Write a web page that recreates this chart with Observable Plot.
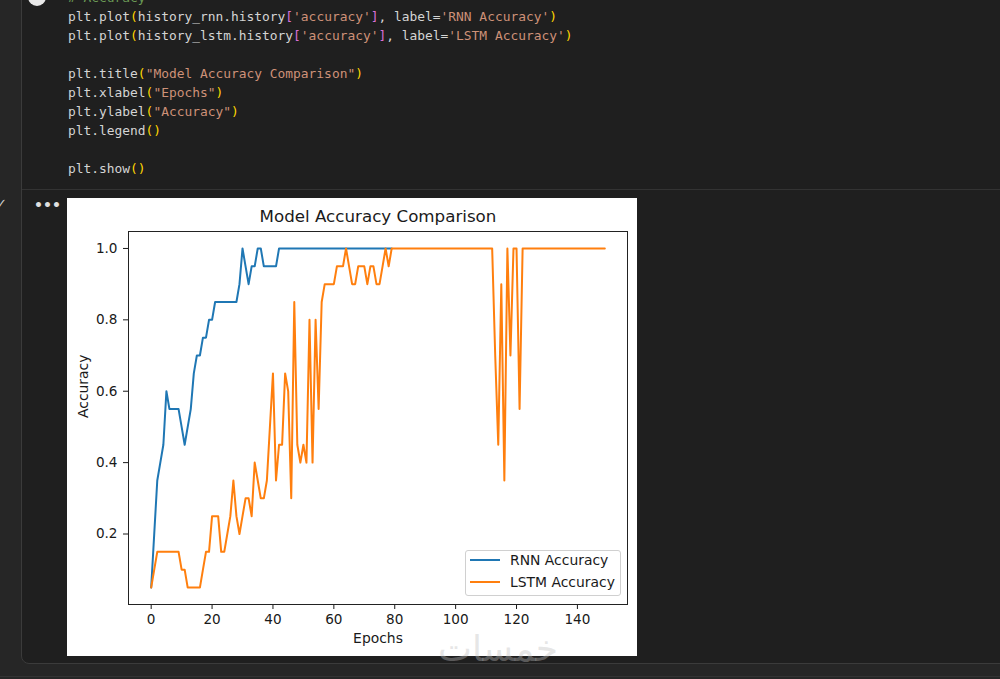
<!DOCTYPE html>
<html>
<head>
<meta charset="utf-8">
<script src="https://cdn.jsdelivr.net/npm/d3@7"></script>
<script src="https://cdn.jsdelivr.net/npm/@observablehq/plot@0.6"></script>
<style>
  html, body { margin:0; padding:0; }
  body { width:1000px; height:679px; overflow:hidden; background:#262626; position:relative; font-family:"DejaVu Sans", sans-serif; }
  #cell { position:absolute; left:21px; top:-20px; width:1100px; height:684px; background:#1f1f1f; border:1px solid #3b3b3b; border-radius:8px; box-sizing:border-box; }
  #sep { position:absolute; left:22px; top:189px; width:978px; height:1px; background:#333; }
  #code { position:absolute; left:68px; top:-12px; margin:0; font-family:"DejaVu Sans Mono", monospace; font-size:12.9px; line-height:19px; color:#d4d4d4; white-space:pre; }
  .p { color:#ffd700; } .b { color:#da70d6; } .s { color:#ce9178; } .c { color:#6a9955; }
  #run { position:absolute; left:28px; top:-12px; width:18px; height:18px; border-radius:50%; background:#e8e8e8; }
  #dots { position:absolute; left:34px; top:197px; color:#e0e0e0; font-size:14px; font-weight:bold; letter-spacing:0px; }
  #check { position:absolute; left:-4px; top:196px; color:#cfcfcf; font-size:13px; }
  #fig { position:absolute; left:67px; top:198px; width:570px; height:458px; background:#fff; }
  #legend { position:absolute; left:398px; top:352px; width:156px; height:46px; box-sizing:border-box; border:1px solid #d0d0d0; border-radius:3px; background:rgba(255,255,255,0.85); font-family:"DejaVu Sans"; font-size:13.9px; color:#1a1a1a; }
  .li { position:absolute; left:4px; height:20px; display:flex; align-items:center; }
  .sw { width:30px; height:2px; margin-right:10px; }
  #wm { position:absolute; left:438px; top:628px; font-family:"DejaVu Sans"; font-size:36px; color:rgba(190,190,190,0.38); direction:rtl; }
  #bottomline { position:absolute; left:0; top:676px; width:1000px; height:1px; background:#333; }
</style>
</head>
<body>
<div id="cell"></div>
<div id="sep"></div>
<div id="run"></div>
<pre id="code"><span class="c"># Accuracy</span>
plt.plot<span class="p">(</span>history_rnn.history<span class="b">[</span><span class="s">'accuracy'</span><span class="b">]</span>, label=<span class="s">'RNN Accuracy'</span><span class="p">)</span>
plt.plot<span class="p">(</span>history_lstm.history<span class="b">[</span><span class="s">'accuracy'</span><span class="b">]</span>, label=<span class="s">'LSTM Accuracy'</span><span class="p">)</span>

plt.title<span class="p">(</span><span class="s">"Model Accuracy Comparison"</span><span class="p">)</span>
plt.xlabel<span class="p">(</span><span class="s">"Epochs"</span><span class="p">)</span>
plt.ylabel<span class="p">(</span><span class="s">"Accuracy"</span><span class="p">)</span>
plt.legend<span class="p">()</span>

plt.show<span class="p">()</span></pre>
<div id="check">✓</div>
<div id="dots">•••</div>
<div id="fig">
  <div id="legend">
    <div class="li" style="top:-1px"><div class="sw" style="background:#1f77b4"></div><span>RNN Accuracy</span></div>
    <div class="li" style="top:21px"><div class="sw" style="background:#ff7f0e"></div><span>LSTM Accuracy</span></div>
  </div>
</div>
<div id="wm">خمسات</div>
<div id="bottomline"></div>
<script>
// ---- data ----
const rnnAcc = [
  0.05, 0.2, 0.35, 0.4, 0.45, 0.6, 0.55, 0.55, 0.55, 0.55,
  0.5, 0.45, 0.5, 0.55, 0.65, 0.7, 0.7, 0.75, 0.75, 0.8,
  0.8, 0.85, 0.85, 0.85, 0.85, 0.85, 0.85, 0.85, 0.85, 0.9,
  1.0, 0.95, 0.9, 0.95, 0.95, 1.0, 1.0, 0.95, 0.95, 0.95,
  0.95, 0.95, 1.0, 1.0, 1.0, 1.0, 1.0, 1.0, 1.0, 1.0,
  1.0, 1.0, 1.0, 1.0, 1.0, 1.0, 1.0, 1.0, 1.0, 1.0,
  1.0, 1.0, 1.0, 1.0, 1.0, 1.0, 1.0, 1.0, 1.0, 1.0,
  1.0, 1.0, 1.0, 1.0, 1.0, 1.0, 1.0, 1.0, 1.0, 1.0
];
const lstmAcc = [
  0.05, 0.1, 0.15, 0.15, 0.15, 0.15, 0.15, 0.15, 0.15, 0.15,
  0.1, 0.1, 0.05, 0.05, 0.05, 0.05, 0.05, 0.1, 0.15, 0.15,
  0.25, 0.25, 0.25, 0.15, 0.15, 0.2, 0.25, 0.35, 0.25, 0.2,
  0.25, 0.3, 0.3, 0.25, 0.4, 0.35, 0.3, 0.3, 0.35, 0.5,
  0.65, 0.35, 0.45, 0.45, 0.65, 0.6, 0.3, 0.85, 0.45, 0.4,
  0.45, 0.4, 0.8, 0.4, 0.8, 0.55, 0.85, 0.9, 0.9, 0.9,
  0.9, 0.95, 0.95, 0.95, 1.0, 0.95, 0.9, 0.9, 0.95, 0.95,
  0.95, 0.9, 0.95, 0.95, 0.9, 0.9, 0.95, 1.0, 0.95, 1.0,
  1.0, 1.0, 1.0, 1.0, 1.0, 1.0, 1.0, 1.0, 1.0, 1.0,
  1.0, 1.0, 1.0, 1.0, 1.0, 1.0, 1.0, 1.0, 1.0, 1.0,
  1.0, 1.0, 1.0, 1.0, 1.0, 1.0, 1.0, 1.0, 1.0, 1.0,
  1.0, 1.0, 1.0, 0.7, 0.45, 0.9, 0.35, 1.0, 0.7, 1.0,
  1.0, 0.55, 1.0, 1.0, 1.0, 1.0, 1.0, 1.0, 1.0, 1.0,
  1.0, 1.0, 1.0, 1.0, 1.0, 1.0, 1.0, 1.0, 1.0, 1.0,
  1.0, 1.0, 1.0, 1.0, 1.0, 1.0, 1.0, 1.0, 1.0, 1.0
];
const xTicks = [0, 20, 40, 60, 80, 100, 120, 140];
const yTicks = [0.2, 0.4, 0.6, 0.8, 1.0];
const titleText = "Model Accuracy Comparison";
const xLabel = "Epochs";
const yLabel = "Accuracy";

const rnnData = rnnAcc.map((v, i) => ({epoch: i, acc: v}));
const lstmData = lstmAcc.map((v, i) => ({epoch: i, acc: v}));

const chart = Plot.plot({
  width: 570,
  height: 458,
  marginLeft: 61,
  marginRight: 10,
  marginTop: 33,
  marginBottom: 52,
  style: {fontFamily: "DejaVu Sans", fontSize: "13.6px", color: "#1a1a1a", background: "transparent", overflow: "visible"},
  x: {domain: [-7.45, 156.45]},
  y: {domain: [0.0025, 1.0475]},
  marks: [
    Plot.axisX({ticks: xTicks, tickSize: 5, tickPadding: 5, label: null, tickFormat: d3.format("d")}),
    Plot.axisY({ticks: yTicks, tickSize: 5, tickPadding: 6, label: null, tickFormat: d3.format(".1f")}),
    Plot.lineY(rnnData, {x: "epoch", y: "acc", stroke: "#1f77b4", strokeWidth: 2, strokeLinejoin: "round"}),
    Plot.lineY(lstmData, {x: "epoch", y: "acc", stroke: "#ff7f0e", strokeWidth: 2, strokeLinejoin: "round"}),
    Plot.frame({stroke: "#222", strokeWidth: 1}),
    Plot.text([titleText], {frameAnchor: "top", lineAnchor: "middle", dy: -15, fontSize: 16.7, fill: "#1a1a1a"}),
    Plot.text([xLabel], {frameAnchor: "bottom", lineAnchor: "middle", dy: 34, fontSize: 13.9, fill: "#1a1a1a"}),
    Plot.text([yLabel], {frameAnchor: "left", lineAnchor: "middle", dx: -45, rotate: -90, fontSize: 13.9, fill: "#1a1a1a"})
  ]
});
chart.style.position = "absolute";
chart.style.left = "0px";
chart.style.top = "0px";
const fig = document.getElementById("fig");
fig.insertBefore(chart, fig.firstChild);
</script>
</body>
</html>
